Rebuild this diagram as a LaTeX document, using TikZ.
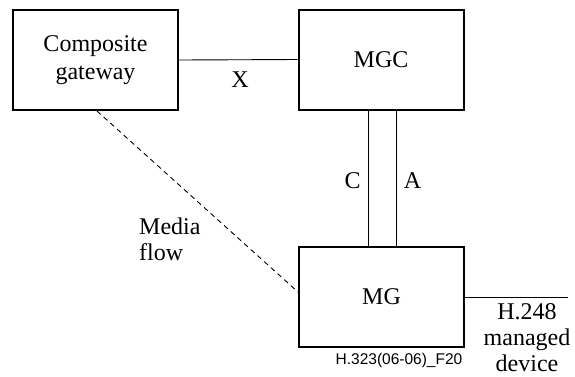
\documentclass[tikz,border=0pt]{standalone}
\usepackage{fontspec}
\setmainfont{Liberation Serif}
\newfontfamily\labelsans{Liberation Sans}
\begin{document}
\begin{tikzpicture}[x=1pt,y=-1pt,
  unit/.style={draw, line width=2pt, minimum width=165pt, minimum height=100pt,
    font=\fontsize{24}{28}\selectfont, align=center, inner sep=0pt},
  link/.style={line width=0.9pt},
  lbl/.style={font=\fontsize{24}{26}\selectfont, inner sep=0pt, align=center}]
\useasboundingbox (0,0) rectangle (575,376);
% network entities
\node[unit] (cg)  at (95.5,60)  {Composite\\gateway};
\node[unit] (mgc) at (381,59.5) {MGC};
\node[unit] (mg)  at (381.5,296.5) {MG};
% reference points
\draw[link] (cg.east) -- (mgc.west);
\node[lbl] (x) at (240,79.5) {X};
\draw[link] (mgc.south -| 368,0) coordinate (c1) -- (c1 |- mg.north);
\draw[link] (mgc.south -| 396,0) coordinate (a1) -- (a1 |- mg.north);
\node[lbl] (c) at (352.5,180.5) {C};
\node[lbl] (a) at (412.5,180.5) {A};
% media path
\coordinate (mfs) at (97,111);
\coordinate (mfe) at (mg.west |- 0,292);
\draw[link, dashed, dash pattern=on 5pt off 4pt] (mfs) -- (mfe);
\node[lbl, align=left, anchor=west] (mf) at (139,239) {Media\\flow};
% managed device side
\coordinate (dev) at (568,297);
\draw[link] (mg.east |- dev) -- (dev);
\node[lbl, anchor=north] (h248) at (527,303) {H.248\\managed\\device};
\node[font=\labelsans\fontsize{15.5}{17}\selectfont, inner sep=0pt, anchor=base] (fig) at (399,364) {H.323(06-06)\_F20};
\end{tikzpicture}
\end{document}
